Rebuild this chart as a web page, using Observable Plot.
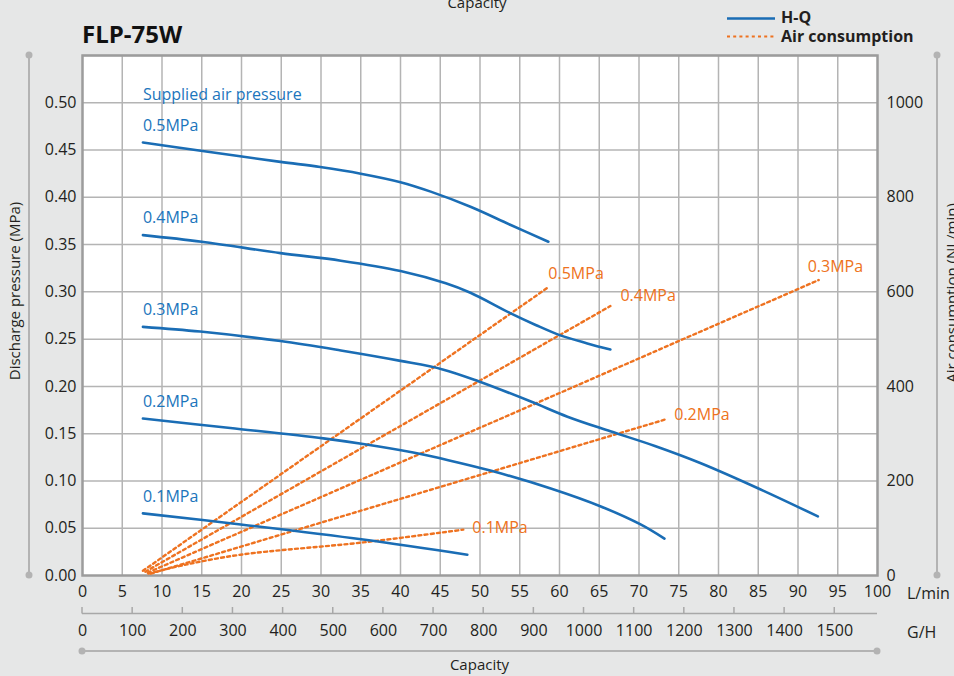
<!DOCTYPE html>
<html><head><meta charset="utf-8">
<script src="https://cdn.jsdelivr.net/npm/d3@7"></script>
<script src="https://cdn.jsdelivr.net/npm/@observablehq/plot@0.6"></script>
<style>
html,body{margin:0;padding:0;background:#e6e7e7;}
#chart{width:954px;height:676px;overflow:hidden;}
svg{display:block;}
</style></head><body><div id="chart"></div>
<script>
// ---- data ----
const seriesNames = ["0.5MPa","0.4MPa","0.3MPa","0.2MPa","0.1MPa"];
// H-Q curves: capacity (L/min) vs discharge pressure (MPa)
const hq05Q = [7.6, 15.1, 24.9, 29.9, 35.0, 40.0, 43.8, 48.8, 53.8, 58.6];
const hq05P = [0.458, 0.449, 0.4375, 0.432, 0.425, 0.416, 0.406, 0.390, 0.371, 0.353];
const hq04Q = [7.6, 15.0, 24.9, 32.5, 40.0, 45.7, 48.8, 53.8, 57.0, 60.1, 63.5, 66.4];
const hq04P = [0.360, 0.353, 0.341, 0.333, 0.322, 0.309, 0.299, 0.2775, 0.265, 0.254, 0.2455, 0.239];
const hq03Q = [7.6, 14.8, 24.9, 32.5, 40.0, 45.3, 49.8, 56.4, 61.0, 66.4, 72.0, 77.7, 85.3, 92.5];
const hq03P = [0.263, 0.258, 0.248, 0.238, 0.227, 0.218, 0.2055, 0.184, 0.168, 0.1525, 0.137, 0.119, 0.091, 0.0625];
const hq02Q = [7.6, 18.6, 30.3, 35.3, 41.6, 46.0, 51.3, 58.9, 65.2, 70.2, 73.2];
const hq02P = [0.166, 0.156, 0.145, 0.139, 0.130, 0.122, 0.111, 0.092, 0.073, 0.054, 0.039];
const hq01Q = [7.6, 19.9, 35.3, 48.4];
const hq01P = [0.0657, 0.054, 0.038, 0.022];
// Air consumption: capacity (L/min) vs air (NL/min)
const air05Q = [7.6, 58.6];        const air05A = [10, 610];
const air04Q = [7.9, 66.4];        const air04A = [8, 570];
const air03Q = [8.2, 92.6];        const air03A = [6, 625];
const air02Q = [8.6, 73.3];        const air02A = [4, 330];
const air01Q = [8.3, 13.0, 19.9, 35.3, 47.9]; const air01A = [4, 23, 44, 70, 97];
// ticks
const ticksLmin = d3.range(0, 101, 5);
const ticksMPa = [0, 0.05, 0.10, 0.15, 0.20, 0.25, 0.30, 0.35, 0.40, 0.45, 0.50];
const ticksAir = [0, 200, 400, 600, 800, 1000];
const ticksGH = [0, 100, 200, 300, 400, 500, 600, 700, 800, 900, 1000, 1100, 1200, 1300, 1400, 1500];

// ---- build tables ----
const hqQ = [hq05Q, hq04Q, hq03Q, hq02Q, hq01Q];
const hqP = [hq05P, hq04P, hq03P, hq02P, hq01P];
const airQ = [air05Q, air04Q, air03Q, air02Q, air01Q];
const airA = [air05A, air04A, air03A, air02A, air01A];
const AIR_PER_MPA = 2000; // right axis 1000 NL/min aligns with 0.50 MPa
const GAL = 3.785;
const hq = seriesNames.flatMap((s, i) => hqQ[i].map((q, j) => ({s, q, p: hqP[i][j]})));
const air = seriesNames.flatMap((s, i) => airQ[i].map((q, j) => ({s, q, a: airA[i][j]})));
const hqStarts = seriesNames.map((s, i) => ({s, q: hqQ[i][0], p: hqP[i][0]}));
const airEnds = seriesNames.map((s, i) => ({s, q: airQ[i][airQ[i].length-1], a: airA[i][airA[i].length-1]}));

const BLUE = "#1a6db5", BLUE_T = "#1b75bc", ORANGE = "#ee7220", GRID = "#b4b4b4";
const FONT = "'Open Sans', 'Noto Sans', sans-serif";
const orangeOff = {"0.5MPa": [0, -13], "0.4MPa": [10, -10], "0.3MPa": [-11, -13], "0.2MPa": [9, -5], "0.1MPa": [9, -2]};

const plot = Plot.plot({
  width: 954, height: 676,
  marginLeft: 82, marginRight: 77, marginTop: 55, marginBottom: 101,
  style: {background: "#e6e7e7", fontFamily: FONT, fontSize: "16px", color: "#231f20", overflow: "hidden"},
  x: {domain: [0, 100]},
  y: {domain: [0, 0.55]},
  marks: [
    Plot.frame({fill: "white", stroke: null}),
    Plot.gridX(ticksLmin.filter(d => d > 0 && d < 100), {stroke: GRID, strokeOpacity: 1, strokeWidth: 1.5}),
    Plot.gridY(ticksMPa.filter(d => d > 0).concat([0.55]), {stroke: GRID, strokeOpacity: 1, strokeWidth: 1.5}),
    Plot.frame({stroke: "#9c9c9c", strokeWidth: 2.5}),
    Plot.axisY(ticksMPa, {anchor: "left", tickSize: 0, tickPadding: 6, tickFormat: d3.format(".2f"), label: null}),
    Plot.axisY(ticksAir.map(a => a / AIR_PER_MPA), {anchor: "right", tickSize: 0, tickPadding: 9, tickFormat: d => String(Math.round(d * AIR_PER_MPA)), label: null}),
    Plot.axisX(ticksLmin, {anchor: "bottom", tickSize: 0, tickPadding: 10, label: null}),
    Plot.axisX(ticksGH.map(g => g * GAL / 60), {anchor: "bottom", tickSize: 0, tickPadding: 49, tickFormat: d => String(Math.round(d * 60 / GAL)), label: null}),
    Plot.line(air, {x: "q", y: d => d.a / AIR_PER_MPA, z: "s", stroke: ORANGE, strokeWidth: 2.4, strokeDasharray: "3,3.2", curve: "catmull-rom"}),
    Plot.line(hq, {x: "q", y: "p", z: "s", stroke: BLUE, strokeWidth: 2.6, curve: "catmull-rom"}),
    Plot.text(hqStarts, {x: "q", y: "p", text: "s", textAnchor: "start", dx: 0, dy: -17, fill: BLUE_T, fontSize: 16}),
    Plot.text(hqStarts.slice(0, 1), {x: "q", y: "p", text: () => "Supplied air pressure", textAnchor: "start", dx: 0, dy: -48, fill: BLUE_T, fontSize: 16}),
    ...airEnds.map(e => Plot.text([e], {x: "q", y: d => d.a / AIR_PER_MPA, text: "s", textAnchor: "start", dx: orangeOff[e.s][0], dy: orangeOff[e.s][1], fill: ORANGE, fontSize: 16}))
  ]
});

const svg = d3.select(plot);
const xs = plot.scale("x"), ys = plot.scale("y");
const X0 = xs.apply(0), X1 = xs.apply(100), Y0 = ys.apply(0), Y1 = ys.apply(0.55);
const DEC = "#b3b3b3";
const g = svg.append("g").attr("font-family", FONT).attr("fill", "#231f20").attr("text-anchor", "start");

// G/H baseline and ticks
g.append("line").attr("x1", X0).attr("x2", X1).attr("y1", Y0 + 38.5).attr("y2", Y0 + 38.5).attr("stroke", "#a8a8a8").attr("stroke-width", 1.5);
g.selectAll(".ght").data(ticksGH).join("line")
  .attr("x1", d => xs.apply(d * GAL / 60)).attr("x2", d => xs.apply(d * GAL / 60))
  .attr("y1", Y0 + 32).attr("y2", Y0 + 38.5).attr("stroke", "#a8a8a8").attr("stroke-width", 1.5);
g.append("text").attr("x", 907).attr("y", Y0 + 18).attr("dy", "0.35em").attr("font-size", 16).text("L/min");
g.append("text").attr("x", 907).attr("y", Y0 + 57).attr("dy", "0.35em").attr("font-size", 16).text("G/H");

// decorative axis lines with dots
function dotLine(x1, y1, x2, y2) {
  g.append("line").attr("x1", x1).attr("y1", y1).attr("x2", x2).attr("y2", y2).attr("stroke", DEC).attr("stroke-width", 2);
  g.append("circle").attr("cx", x1).attr("cy", y1).attr("r", 3.5).attr("fill", DEC);
  g.append("circle").attr("cx", x2).attr("cy", y2).attr("r", 3.5).attr("fill", DEC);
}
dotLine(29, Y1, 29, Y0);
dotLine(937, Y1, 937, Y0);
dotLine(X0, 651, X1, 651);

// axis titles
g.append("text").attr("transform", "translate(20,291) rotate(-90)").attr("text-anchor", "middle").attr("font-size", 15).text("Discharge pressure (MPa)");
g.append("text").attr("transform", "translate(957,293) rotate(-90)").attr("text-anchor", "middle").attr("font-size", 15).text("Air consumption (NL/min)");
g.append("text").attr("x", (X0 + X1) / 2).attr("y", 670).attr("text-anchor", "middle").attr("font-size", 15).text("Capacity");
g.append("text").attr("x", 477).attr("y", 8).attr("text-anchor", "middle").attr("font-size", 15).text("Capacity");

// title
g.append("text").attr("x", 82).attr("y", 43).attr("font-size", 24).attr("font-weight", "bold").attr("fill", "#111").text("FLP-75W");

// legend
g.append("line").attr("x1", 727).attr("x2", 775).attr("y1", 18.5).attr("y2", 18.5).attr("stroke", BLUE).attr("stroke-width", 2.4);
g.append("line").attr("x1", 727).attr("x2", 775).attr("y1", 36.5).attr("y2", 36.5).attr("stroke", ORANGE).attr("stroke-width", 2.2).attr("stroke-dasharray", "3,3.2");
g.append("text").attr("x", 781).attr("y", 17.5).attr("dy", "0.35em").attr("font-size", 16).attr("font-weight", "bold").text("H-Q");
g.append("text").attr("x", 781).attr("y", 36.5).attr("dy", "0.35em").attr("font-size", 16).attr("font-weight", "bold").text("Air consumption");

document.getElementById("chart").appendChild(plot);
</script>
</body></html>
